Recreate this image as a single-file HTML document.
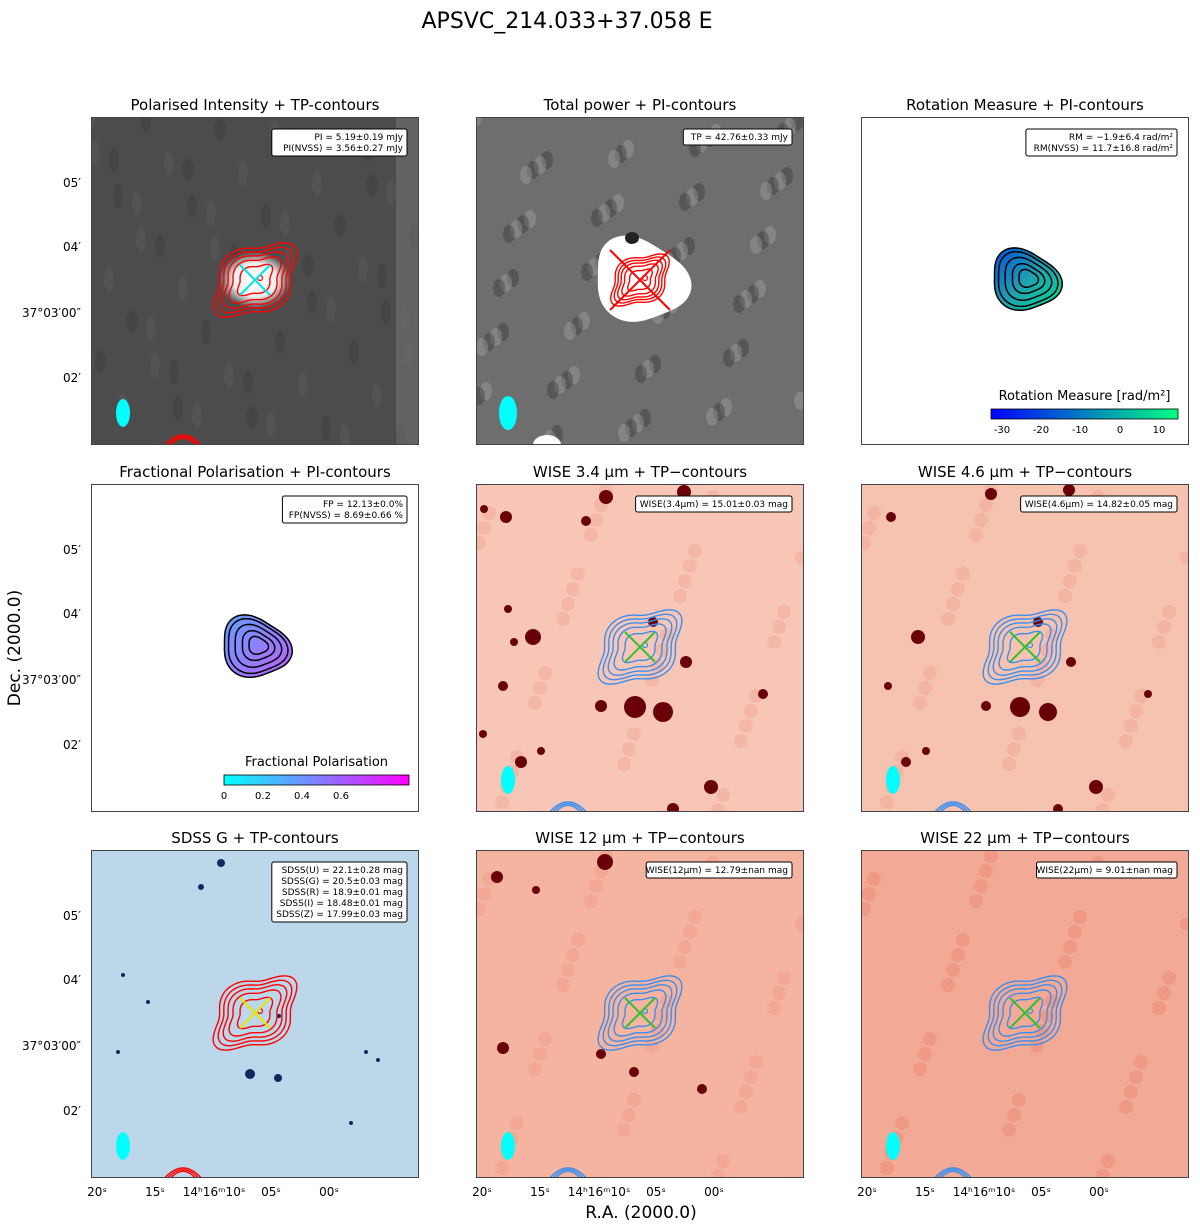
<!DOCTYPE html>
<html><head><meta charset="utf-8"><style>
body{margin:0;background:#fff;}
svg text{font-family:"DejaVu Sans","Liberation Sans",sans-serif;}
</style></head><body>
<svg id="fig" width="1200" height="1226" viewBox="0 0 1200 1226" xmlns="http://www.w3.org/2000/svg">
<defs>
<radialGradient id="glowW"><stop offset="0" stop-color="#fff"/><stop offset="0.6" stop-color="#fff" stop-opacity="0.9"/><stop offset="1" stop-color="#fff" stop-opacity="0"/></radialGradient>
<linearGradient id="rmcb" x1="0" x2="1"><stop offset="0" stop-color="#0000ff"/><stop offset="0.5" stop-color="#0080c0"/><stop offset="1" stop-color="#00ff80"/></linearGradient>
<linearGradient id="fpcb" x1="0" x2="1"><stop offset="0" stop-color="#00ffff"/><stop offset="1" stop-color="#ff00ff"/></linearGradient>
<linearGradient id="rmfill" x1="0" y1="0" x2="1" y2="1"><stop offset="0" stop-color="#0050e0"/><stop offset="0.5" stop-color="#20a0b0"/><stop offset="1" stop-color="#00e090"/></linearGradient>
<linearGradient id="fpfill" x1="0" y1="0" x2="1" y2="1"><stop offset="0" stop-color="#60a0ff"/><stop offset="1" stop-color="#c060ff"/></linearGradient>
</defs>
<text x="567" y="28" font-size="22" text-anchor="middle">APSVC_214.033+37.058 E</text>
<text transform="translate(20,648) rotate(-90)" font-size="17" text-anchor="middle">Dec. (2000.0)</text>
<text x="641" y="1218" font-size="17" text-anchor="middle">R.A. (2000.0)</text>
<g id="panels"></g>
</svg>
<script>
const NS='http://www.w3.org/2000/svg';
const panelX=[91,476,861];
const panelY=[117,484,850];
const PS=328;
const titles=['Polarised Intensity + TP-contours','Total power + PI-contours','Rotation Measure + PI-contours',
'Fractional Polarisation + PI-contours','WISE 3.4 μm + TP−contours','WISE 4.6 μm + TP−contours',
'SDSS G + TP-contours','WISE 12 μm + TP−contours','WISE 22 μm + TP−contours'];
const boxes=[['PI = 5.19±0.19 mJy','PI(NVSS) = 3.56±0.27 mJy'],['TP = 42.76±0.33 mJy'],['RM = −1.9±6.4 rad/m²','RM(NVSS) = 11.7±16.8 rad/m²'],
['FP = 12.13±0.0%','FP(NVSS) = 8.69±0.66 %'],['WISE(3.4μm) = 15.01±0.03 mag'],['WISE(4.6μm) = 14.82±0.05 mag'],
['SDSS(U) = 22.1±0.28 mag','SDSS(G) = 20.5±0.03 mag','SDSS(R) = 18.9±0.01 mag','SDSS(I) = 18.48±0.01 mag','SDSS(Z) = 17.99±0.03 mag'],
['WISE(12μm) = 12.79±nan mag'],['WISE(22μm) = 9.01±nan mag']];
const bgs=['#4c4c4c','#6e6e6e','#ffffff','#ffffff','#f7c6b6','#f6c3b1','#bcd6ea','#f4b4a0','#f2aa96'];
const yTickLabels=['05′','04′','37°03′00″','02′'];
const yTickPos=[65,129,195,260];
const xTickLabels=['20ˢ','15ˢ','14ʰ16ᵐ10ˢ','05ˢ','00ˢ'];
const xTickPos=[6,64,123,180,238];
const contourLevels=[1,0.88,0.76,0.62,0.42];
const pcLevels=[1,0.92,0.72,0.5,0.3];
const stars34=[[130,13,7],[208,8,7],[8,25,4],[30,33,6],[110,37,5],[57,153,8],[38,158,4],[27,202,5],[159,223,11],[187,228,10],[125,222,6],[210,178,6],[287,210,5],[7,250,4],[45,278,6],[65,267,4],[235,303,7],[197,325,6],[32,125,4],[177,138,5]];
const stars46=[[130,10,6],[208,6,6],[30,33,5],[57,153,7],[159,223,10],[187,228,9],[125,222,5],[210,178,5],[287,210,4],[45,278,5],[235,303,7],[197,325,5],[27,202,4],[65,267,4],[177,138,5]];
const stars12=[[129,12,8],[21,27,6],[27,198,6],[158,222,5],[125,204,5],[226,239,5],[60,40,4]];
const starsSD=[[130,13,4],[110,37,3],[32,125,2],[57,152,2],[159,224,5],[187,228,4],[188,166,2],[275,202,2],[287,210,2],[27,202,2],[260,273,2]];
function el(t,a,p){const e=document.createElementNS(NS,t);for(const k in a)e.setAttribute(k,a[k]);(p||root).appendChild(e);return e;}
const root=document.getElementById('panels');
function contourPath(cx,cy,s){let d='';for(let i=0;i<=72;i++){const t=i/72*2*Math.PI;const r=1+0.13*Math.cos(4*t+0.6);
let x=46*s*Math.cos(t)*r,y=32*s*Math.sin(t)*r;const a=-0.62;const X=x*Math.cos(a)-y*Math.sin(a)+cx,Y=x*Math.sin(a)+y*Math.cos(a)+cy;d+=(i?'L':'M')+X.toFixed(1)+' '+Y.toFixed(1);}return d+'Z';}
function blobPath(cx,cy,s){let d='';for(let i=0;i<=72;i++){const t=i/72*2*Math.PI;const r=1+0.1*Math.cos(3*t+1);
let x=33*s*Math.cos(t)*r,y=28*s*Math.sin(t)*r;const a=0.4;const X=x*Math.cos(a)-y*Math.sin(a)+cx,Y=x*Math.sin(a)+y*Math.cos(a)+cy;d+=(i?'L':'M')+X.toFixed(1)+' '+Y.toFixed(1);}return d+'Z';}
for(let r=0;r<3;r++)for(let c=0;c<3;c++){
 const k=r*3+c,x0=panelX[c],y0=panelY[r];
 const g=el('g',{transform:`translate(${x0},${y0})`});
 
 
 const cp=el('clipPath',{id:'cp'+k},g);el('rect',{x:0,y:0,width:PS,height:PS},cp);
 const inner=el('g',{'clip-path':`url(#cp${k})`},g);
 el('rect',{x:0,y:0,width:PS,height:PS,fill:bgs[k]},inner);
 const cx=164,cy=163;
 if(k===0){for(let i=0;i<60;i++){el('ellipse',{cx:(i*97)%PS,cy:(i*53)%PS,rx:5,ry:12,fill:i%2?'#3a3a3a':'#606060',opacity:0.35},inner);}
  el('rect',{x:305,y:0,width:23,height:PS,fill:'#777',opacity:0.5},inner);
  el('ellipse',{cx:cx,cy:cy,rx:36,ry:28,fill:'url(#glowW)'},inner);}
 if(k===1){for(let i=0;i<80;i++){el('ellipse',{cx:(i*71)%PS,cy:(i*43)%PS,rx:6,ry:9,fill:i%2?'#2a2a2a':'#b0b0b0',opacity:0.35},inner);}
  el('path',{d:blobPath(cx,cy,1.45),fill:'#fff'},inner);el('ellipse',{cx:cx-8,cy:cy-42,rx:7,ry:6,fill:'#222'},inner);
  el('ellipse',{cx:71,cy:PS,rx:14,ry:10,fill:'#fff'},inner);}
 if(k===4||k===5||k===7||k===8){for(let i=0;i<40;i++)el('circle',{cx:(i*89+13)%PS,cy:(i*61+29)%PS,r:7,fill:'#e8735d',opacity:k===8?0.3:0.18},inner);}
 const stars=k===4?stars34:k===5?stars46:k===7?stars12:k===6?starsSD:[];
 for(const s of stars){const st=el('circle',{cx:s[0],cy:s[1],r:s[2],fill:k===6?'#0a2a60':'#6a0008'},inner);
  }
 if(k===2||k===3){
  const fill=k===2?'url(#rmfill)':'url(#fpfill)';
  el('path',{d:blobPath(cx,cy,1.05),fill:fill,stroke:'#000','stroke-width':1.5},inner);
  for(const s of pcLevels.slice(1))el('path',{d:blobPath(cx+4*(1-s),cy-2*(1-s),s),fill:'none',stroke:'#000','stroke-width':1.5},inner);
  const cbx=k===2?130:133,cbw=k===2?187:185,cby=k===2?292:291;
  el('rect',{x:cbx,y:cby,width:cbw,height:10,fill:k===2?'url(#rmcb)':'url(#fpcb)',stroke:'#000','stroke-width':0.8},inner);
  const t=el('text',{x:cbx+cbw/2,y:cby-9,'font-size':13,'text-anchor':'middle'},inner);t.textContent=k===2?'Rotation Measure [rad/m²]':'Fractional Polarisation';
  const ticks=k===2?[['-30',141],['-20',180],['-10',219],['0',259],['10',298]]:[['0',133],['0.2',172],['0.4',211],['0.6',250]];
  for(const tk of ticks){const tt=el('text',{x:tk[1],y:cby+24,'font-size':10,'text-anchor':'middle'},inner);tt.textContent=tk[0];}
 } else {
  const col=(k===0||k===1||k===6)?'#ff0000':'#3a8ef0';
  const levels=k===1?contourLevels.map(v=>v*0.7):contourLevels;
  for(const s of levels){const p=el('path',{d:contourPath(cx,cy,s),fill:'none',stroke:col,'stroke-width':1.4},inner);
   }
  el('circle',{cx:cx+5,cy:cy-2,r:2.5,fill:'none',stroke:col,'stroke-width':1.2},inner);
  if(k!==1){for(const s of [1,0.85,0.7])el('path',{d:`M${92-20*s} ${PS+2} Q${92} ${PS-22*s} ${92+20*s} ${PS+2}`,fill:'none',stroke:col,'stroke-width':1.4},inner);}
  const xc=k===0?'#00e5e5':k===6?'#e8e800':k===1?'#ff0000':'#30c030';const L=k===1?30:15;
  el('line',{x1:cx-L,y1:cy-L,x2:cx+L,y2:cy+L,stroke:xc,'stroke-width':2},inner);
  el('line',{x1:cx-L,y1:cy+L,x2:cx+L,y2:cy-L,stroke:xc,'stroke-width':2},inner);
  const bm=el('ellipse',{cx:32,cy:296,rx:k===1?9:7,ry:k===1?17:14,fill:'#00ffff'},inner);
  
 }
 el('rect',{x:0.5,y:0.5,width:PS-1,height:PS-1,fill:'none',stroke:'#444','stroke-width':1},g);
 const lines=boxes[k];const bw=Math.max(...lines.map(l=>l.length))*5.3+8;const bh=lines.length*11+5;
 const bx=316-bw,by=12;
 const box=el('g',{},g);
 el('rect',{x:bx,y:by,width:bw,height:bh,rx:2,fill:'#fff',stroke:'#000','stroke-width':1},box);
 lines.forEach((l,i)=>{const t=el('text',{x:316-4,y:by+11+i*11,'font-size':9,'text-anchor':'end'},box);t.textContent=l;});
 const tt=el('text',{x:PS/2,y:-7,'font-size':15,'text-anchor':'middle'},g);tt.textContent=titles[k];
 
 if(c===0){yTickLabels.forEach((l,i)=>{const t=el('text',{x:-10,y:yTickPos[i]+5,'font-size':12,'text-anchor':'end'},g);t.textContent=l;
   });}
 if(r===2){xTickLabels.forEach((l,i)=>{const t=el('text',{x:xTickPos[i],y:PS+18,'font-size':12,'text-anchor':'middle'},g);t.textContent=l;
   });}
}
</script>
</body></html>
